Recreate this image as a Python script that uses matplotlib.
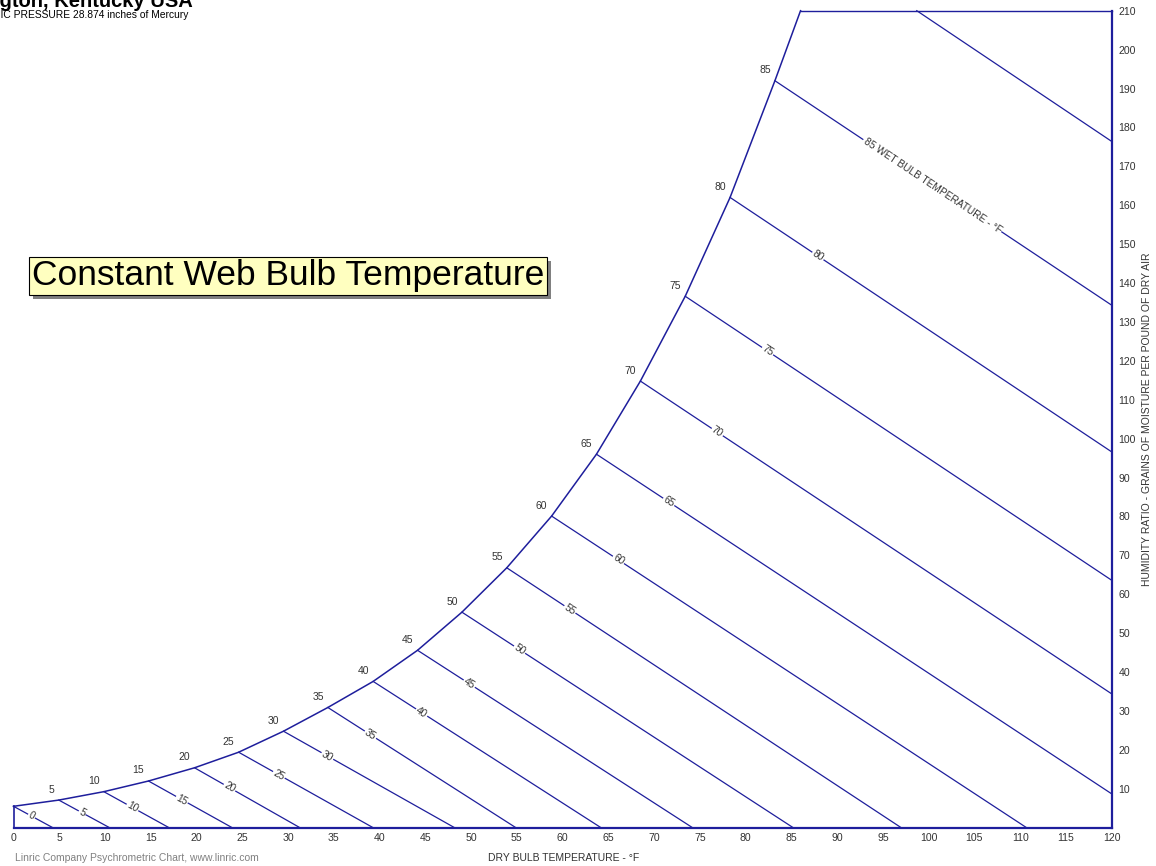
import numpy as np
import matplotlib
matplotlib.use('Agg')
import matplotlib.pyplot as plt
import matplotlib.patheffects as pe

plt.rcParams['font.family'] = ['Liberation Sans', 'DejaVu Sans']

LINE = '#1e1e9c'
TXT = '#333333'

# saturation curve (dry bulb F, grains/lb), last point is where it meets the top edge
sat_db = [0.0, 4.95, 9.87, 14.75, 19.78, 24.6, 29.5, 34.35, 39.3, 44.15,
          49.0, 53.9, 58.8, 63.7, 68.5, 73.4, 78.3, 83.2, 86.0]
sat_w = [5.5, 7.1, 9.26, 12.0, 15.4, 19.4, 24.8, 30.9, 37.6, 45.6,
         55.4, 66.8, 80.1, 96.0, 114.8, 136.6, 162.0, 192.0, 210.0]

# constant wet bulb lines
wb_temps = [0, 5, 10, 15, 20, 25, 30, 35, 40, 45, 50, 55, 60, 65, 70, 75, 80, 85, 90]
wb_start_db = sat_db[:18] + [98.7]
wb_start_w = sat_w[:18] + [210.0]
wb_end_db = [4.3, 10.5, 17.0, 23.9, 31.3, 39.3, 48.2, 54.9, 64.2, 74.2,
             85.2, 97.0, 110.7, 120, 120, 120, 120, 120, 120]
wb_end_w = [0, 0, 0, 0, 0, 0, 0, 0, 0, 0, 0, 0, 0, 8.7, 34.4, 63.6, 96.6, 134.3, 176.4]
# dry bulb position of the label on each line
label_db = [1.97, 7.5, 13.0, 18.4, 23.6, 29.0, 34.3, 39.0, 44.6, 49.8,
            55.3, 60.8, 66.1, 71.6, 76.9, 82.4, 87.9, 100.4]

x_ticks = list(range(0, 121, 5))
y_ticks = list(range(10, 211, 10))

fig = plt.figure(figsize=(11.56, 8.66), dpi=100)
ax = fig.add_axes([13.5 / 1156, 38.3 / 866, (1111.7 - 13.5) / 1156, (827.7 - 10.7) / 866])
ax.set_xlim(0, 120)
ax.set_ylim(0, 210)
for s in ax.spines.values():
    s.set_visible(False)

# chart outline
ax.plot([0, 120], [0, 0], color=LINE, lw=1.6, clip_on=False)
ax.plot([120, 120], [0, 210], color=LINE, lw=1.6, clip_on=False)
ax.plot([sat_db[-1], 120], [210, 210], color=LINE, lw=1.0, clip_on=False)
ax.plot([0, 0], [0, sat_w[0]], color=LINE, lw=1.2, clip_on=False)
ax.plot(sat_db, sat_w, color=LINE, lw=1.1, clip_on=False)

for i, t in enumerate(wb_temps):
    x1, y1, x2, y2 = wb_start_db[i], wb_start_w[i], wb_end_db[i], wb_end_w[i]
    ax.plot([x1, x2], [y1, y2], color=LINE, lw=0.9, clip_on=False)
    if i >= len(label_db):
        continue
    p1 = ax.transData.transform((x1, y1))
    p2 = ax.transData.transform((x2, y2))
    ang = np.degrees(np.arctan2(p2[1] - p1[1], p2[0] - p1[0]))
    lx = label_db[i]
    ly = y1 + (y2 - y1) * (lx - x1) / (x2 - x1)
    txt = '%d WET BULB TEMPERATURE - °F' % t if t == 85 else str(t)
    ax.text(lx, ly, txt, rotation=ang, rotation_mode='anchor', ha='center', va='center',
            fontsize=7.3, color=TXT, zorder=5,
            bbox=dict(boxstyle='square,pad=0.1', fc='white', ec='none'))
    if t > 0:
        ax.annotate(str(t), (x1, y1), xytext=(-3, 4), textcoords='offset points',
                    ha='right', va='bottom', fontsize=7.5, color=TXT)

ax.set_xticks(x_ticks)
ax.set_xticklabels([str(v) for v in x_ticks])
ax.yaxis.tick_right()
ax.set_yticks(y_ticks)
ax.set_yticklabels([str(v) for v in y_ticks])
ax.tick_params(axis='both', length=0, labelsize=7.6, colors=TXT)
ax.tick_params(axis='x', pad=4)
ax.tick_params(axis='y', pad=5)

# title block, cut at the top-left edge as in the original
fig.text(193 / 1156, 1 - 7 / 866, 'Lexington, Kentucky USA', ha='right', va='baseline',
         fontsize=14.5, fontweight='bold')
fig.text(188 / 1156, 1 - 18.5 / 866, 'BAROMETRIC PRESSURE 28.874 inches of Mercury',
         ha='right', va='baseline', fontsize=7.4)
fig.text(488 / 1156, 1 - 858 / 866, 'DRY BULB TEMPERATURE - °F', ha='left', va='center',
         fontsize=7.5, color=TXT)
fig.text(15 / 1156, 1 - 858 / 866, 'Linric Company Psychrometric Chart, www.linric.com',
         ha='left', va='center', fontsize=7.5, color='#808080')
fig.text(1147 / 1156, 1 - 419 / 866, 'HUMIDITY RATIO - GRAINS OF MOISTURE PER POUND OF DRY AIR',
         rotation=90, ha='center', va='center', fontsize=7.5, color=TXT)

box = fig.text(288 / 1156, 1 - 276 / 866, 'Constant Web Bulb Temperature', ha='center', va='center',
               fontsize=25.5, color='black',
               bbox=dict(boxstyle='square,pad=0.08', fc='#ffffc0', ec='black', lw=0.8))
box.get_bbox_patch().set_path_effects([
    pe.SimplePatchShadow(offset=(3, -3), shadow_rgbFace='#808080', alpha=1.0),
    pe.Normal()])

fig.savefig('out.png', dpi=100)
